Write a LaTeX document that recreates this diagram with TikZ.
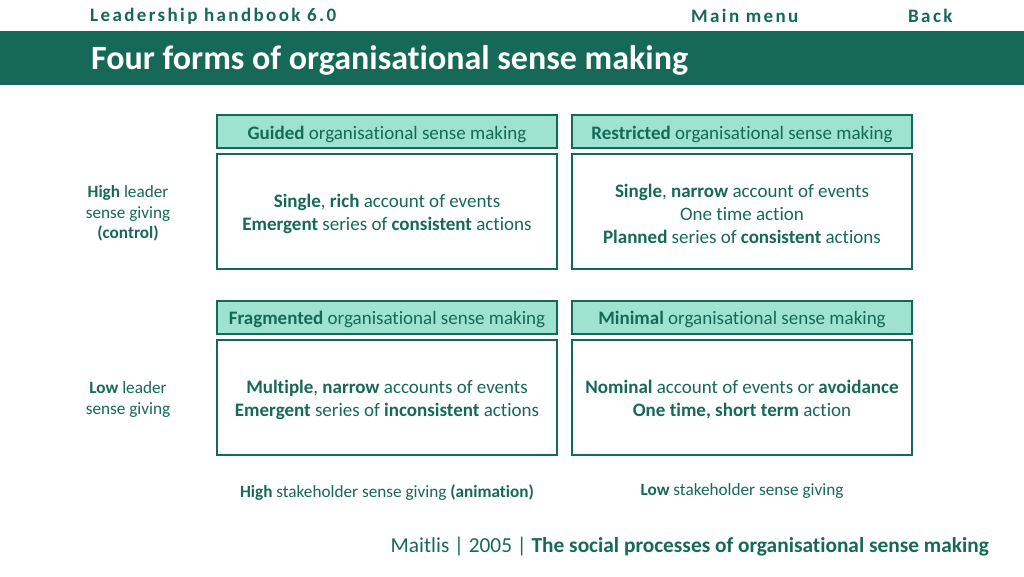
\documentclass[tikz,border=0pt]{standalone}
\usepackage{fontspec}
\setmainfont{Carlito}[Ligatures=NoCommon]
\definecolor{dkgreen}{HTML}{176957}
\definecolor{mint}{HTML}{9DE3CF}
\tikzset{
  hdrbox/.style={draw=dkgreen, line width=2pt, fill=mint, minimum width=340pt, minimum height=33pt, inner sep=0pt},
  bodybox/.style={draw=dkgreen, line width=2pt, fill=white, minimum width=340pt, minimum height=115pt, inner sep=0pt},
  boxtext/.style={align=center, text=dkgreen, font=\fontsize{19}{23}\selectfont, inner sep=0pt, yshift=-2.5pt},
  sidelbl/.style={align=center, text=dkgreen, font=\fontsize{17.2}{20.5}\selectfont, inner sep=0pt},
  toplink/.style={text=dkgreen, font=\fontsize{19}{22}\selectfont\bfseries\addfontfeature{LetterSpace=12.5}, inner sep=0pt}
}
\begin{document}
\begin{tikzpicture}[x=1pt,y=-1pt]
\useasboundingbox (0,0) rectangle (1024,576);
\fill[white] (0,0) rectangle (1024,576);
% band
\fill[dkgreen] (0,31) rectangle (1024,85);
\node[anchor=west, text=white, font=\fontsize{34}{38}\selectfont\bfseries, inner sep=0pt] (title) at (91,60) {Four forms of organisational sense making};
% top links
\node[toplink, anchor=west] (hb) at (90,16) {Leadership handbook 6.0};
\node[toplink, anchor=west] (mm) at (691,16) {Main menu};
\node[toplink, anchor=west] (bk) at (908,16) {Back};
% header boxes
\node[hdrbox] (h1) at (387,131.5) {};
\node[hdrbox] (h2) at (742,131.5) {};
\node[hdrbox] (h3) at (387,317) {};
\node[hdrbox] (h4) at (742,317) {};
\node[boxtext] (t1) at (h1) {\textbf{Guided} organisational sense making};
\node[boxtext] (t2) at (h2) {\textbf{Restricted} organisational sense making};
\node[boxtext] (t3) at (h3) {\textbf{Fragmented} organisational sense making};
\node[boxtext] (t4) at (h4) {\textbf{Minimal} organisational sense making};
% body boxes
\node[bodybox] (b1) at (387,211.5) {};
\node[bodybox] (b2) at (742,211.5) {};
\node[bodybox] (b3) at (387,397.5) {};
\node[bodybox] (b4) at (742,397.5) {};
\node[boxtext] (c1) at (b1) {\textbf{Single}, \textbf{rich} account of events\\\textbf{Emergent} series of \textbf{consistent} actions};
\node[boxtext] (c2) at (b2) {\textbf{Single}, \textbf{narrow} account of events\\One time action\\\textbf{Planned} series of \textbf{consistent} actions};
\node[boxtext] (c3) at (b3) {\textbf{Multiple}, \textbf{narrow} accounts of events\\\textbf{Emergent} series of \textbf{inconsistent} actions};
\node[boxtext] (c4) at (b4) {\textbf{Nominal} account of events or \textbf{avoidance}\\\textbf{One time, short term} action};
% side labels
\node[sidelbl] (l1) at (128,213.5) {\textbf{High} leader\\sense giving\\\textbf{(control)}};
\node[sidelbl] (l2) at (128,399.5) {\textbf{Low} leader\\sense giving};
\node[sidelbl] (l3) at (387,493) {\textbf{High} stakeholder sense giving \textbf{(animation)}};
\node[sidelbl] (l4) at (742,491) {\textbf{Low} stakeholder sense giving};
% citation
\node[anchor=east, text=dkgreen, font=\fontsize{21.35}{25}\selectfont, inner sep=0pt] (cite) at (989,547) {Maitlis | 2005 | \textbf{The social processes of organisational sense making}};
\end{tikzpicture}
\end{document}
